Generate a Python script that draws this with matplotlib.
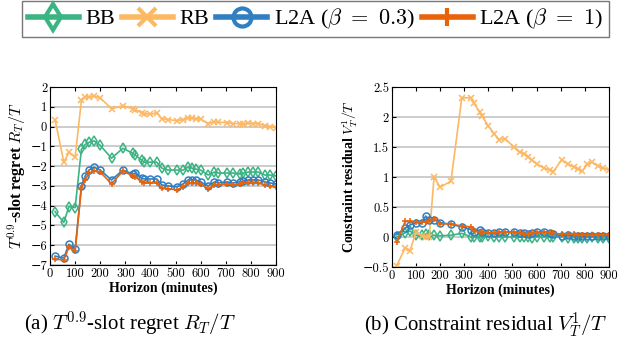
import matplotlib
matplotlib.use("Agg")
import matplotlib.pyplot as plt
from matplotlib.lines import Line2D
from matplotlib.ticker import FuncFormatter, MultipleLocator

# horizon (minutes)
horizon = [20, 55, 75, 100, 125, 140, 155, 175, 200, 245, 290, 330, 340, 365, 375,
           400, 425, 445, 470, 505, 530, 550, 565, 580, 600, 630, 655, 670, 705, 730,
           755, 770, 790, 810, 830, 855, 875, 900]

# (a) T^0.9-slot regret R_T/T
regret_bb = [-4.3, -4.85, -4.05, -4.1, -1.15, -0.9, -0.8, -0.72, -0.95, -1.6, -1.1, -1.35,
             -1.45, -1.7, -1.8, -1.8, -1.8, -2.1, -2.2, -2.2, -2.2, -2.05, -2.1, -2.15,
             -2.2, -2.45, -2.3, -2.35, -2.35, -2.35, -2.4, -2.35, -2.3, -2.3, -2.3, -2.45,
             -2.45, -2.5]
regret_rb = [0.35, -1.8, -1.3, -1.55, 1.32, 1.5, 1.5, 1.55, 1.45, 0.9, 1.05, 0.9, 0.85, 0.7,
             0.65, 0.62, 0.7, 0.4, 0.35, 0.3, 0.35, 0.45, 0.42, 0.4, 0.38, 0.15, 0.25, 0.22,
             0.2, 0.15, 0.15, 0.12, 0.17, 0.15, 0.15, 0.05, 0.0, -0.05]
regret_l2a_03 = [-6.55, -6.65, -5.95, -6.2, -3.0, -2.5, -2.2, -2.05, -2.2, -2.7, -2.2, -2.4,
                 -2.35, -2.6, -2.65, -2.65, -2.65, -2.95, -3.0, -3.05, -2.9, -2.7, -2.7,
                 -2.7, -2.8, -3.0, -2.8, -2.85, -2.8, -2.85, -2.8, -2.75, -2.7, -2.7, -2.7,
                 -2.8, -2.85, -2.9]
regret_l2a_1 = [-6.7, -6.75, -6.1, -6.3, -3.1, -2.7, -2.35, -2.25, -2.3, -2.9, -2.25, -2.5,
                -2.55, -2.8, -2.85, -2.85, -2.85, -3.1, -3.15, -3.2, -3.05, -2.85, -2.85,
                -2.85, -2.9, -3.15, -2.95, -2.95, -2.9, -2.95, -2.9, -2.85, -2.85, -2.85,
                -2.85, -2.95, -3.0, -3.05]

# (b) constraint residual V_T^1/T
resid_bb = [0.0, 0.07, 0.1, 0.03, 0.04, 0.05, 0.04, 0.03, 0.02, 0.03, 0.06, 0.0, 0.0, 0.0,
            0.0, 0.01, 0.0, 0.0, 0.0, 0.0, 0.0, 0.0, 0.0, -0.01, 0.0, 0.0, 0.0, 0.0, 0.0,
            -0.01, -0.01, -0.02, -0.01, -0.01, 0.0, -0.02, -0.02, -0.02]
resid_rb = [-0.48, -0.18, -0.23, 0.08, 0.02, 0.0, 0.0, 1.0, 0.83, 0.93, 2.32, 2.32, 2.23,
            2.08, 2.01, 1.85, 1.72, 1.62, 1.64, 1.5, 1.41, 1.39, 1.34, 1.28, 1.22, 1.15,
            1.12, 1.09, 1.29, 1.21, 1.17, 1.14, 1.1, 1.21, 1.25, 1.18, 1.15, 1.12]
resid_l2a_03 = [0.04, 0.15, 0.2, 0.24, 0.23, 0.35, 0.28, 0.29, 0.24, 0.21, 0.17, 0.12, 0.08,
                0.12, 0.08, 0.06, 0.07, 0.08, 0.08, 0.08, 0.07, 0.06, 0.05, 0.06, 0.08, 0.09,
                0.06, 0.05, 0.02, 0.03, 0.02, 0.01, 0.01, 0.02, 0.02, 0.02, 0.02, 0.02]
resid_l2a_1 = [-0.09, 0.26, 0.26, 0.25, 0.25, 0.25, 0.27, 0.3, 0.22, 0.22, 0.18, 0.17, 0.1,
               0.08, 0.08, 0.07, 0.07, 0.08, 0.08, 0.08, 0.07, 0.05, 0.05, 0.06, 0.07, 0.08,
               0.07, 0.06, 0.05, 0.05, 0.05, 0.04, 0.03, 0.03, 0.03, 0.03, 0.04, 0.04]

labels = ['BB', 'RB', r'L2A ($\beta\ =\ 0.3$)', r'L2A ($\beta\ =\ 1$)']
colors = ['#3cb383', '#fdb863', '#2f7fc1', '#e8630a']
markers = ['d', 'x', 'o', '+']
hollow = [True, False, True, False]

plt.rcParams['font.family'] = ['Liberation Serif', 'DejaVu Serif']
plt.rcParams['mathtext.fontset'] = 'cm'
plt.rcParams['axes.unicode_minus'] = True

fig = plt.figure(figsize=(6.26, 3.4), dpi=100)
ax1 = fig.add_axes([0.0799, 0.2206, 0.361, 0.5235])
ax2 = fig.add_axes([0.626, 0.2147, 0.3466, 0.5294])


def draw(ax, series, ylim, ystep, ylabel, ysize):
    for ys, c, m, h in zip(series, colors, markers, hollow):
        ax.plot(horizon, ys, color=c, marker=m, markersize=5,
                mfc='none' if h else c, mew=1.1, lw=1.2)
    ax.set_xlim(0, 900)
    ax.set_ylim(*ylim)
    ax.xaxis.set_major_locator(MultipleLocator(100))
    ax.yaxis.set_major_locator(MultipleLocator(ystep))
    ax.yaxis.set_major_formatter(FuncFormatter(lambda v, p: ('%g' % v).replace('-', '\u2212')))
    ax.grid(axis='y', color='#c8c8c8', lw=1.3)
    ax.set_axisbelow(True)
    ax.tick_params(direction='in', top=True, right=False, length=3, labelsize=9,
                   pad=2)
    for t in ax.get_xticklabels() + ax.get_yticklabels():
        t.set_fontfamily(['cmr10', 'DejaVu Serif'])
    ax.set_xlabel('Horizon (minutes)', fontsize=10, fontweight='bold', labelpad=1)
    ax.set_ylabel(ylabel, fontsize=ysize, fontweight='bold', labelpad=2)


draw(ax1, [regret_bb, regret_rb, regret_l2a_03, regret_l2a_1], (-7, 2), 1,
     r'$T^{0.9}$-slot regret $R_T/T$', 11.5)
draw(ax2, [resid_bb, resid_rb, resid_l2a_03, resid_l2a_1], (-0.5, 2.5), 0.5,
     r'Constraint residual $V_T^1/T$', 10)

handles = [Line2D([], [], color=c, marker=m, lw=4, markersize=13, mew=3,
                  mfc=('none' if h else c)) for c, m, h in zip(colors, markers, hollow)]
fig.legend(handles, labels, loc='upper center', bbox_to_anchor=(0.504, 0.997), ncol=4,
           fontsize=16, frameon=True, fancybox=False, edgecolor='#555555',
           handlelength=2.3, handletextpad=0.3, columnspacing=0.3, borderpad=0.25,
           borderaxespad=0)

fig.text(0.207, 0.026, r'(a) $T^{0.9}$-slot regret $R_T/T$', ha='center', va='baseline',
         fontsize=15)
fig.text(0.776, 0.026, r'(b) Constraint residual $V_T^1/T$', ha='center', va='baseline',
         fontsize=15)

fig.savefig('out.png', dpi=100)
